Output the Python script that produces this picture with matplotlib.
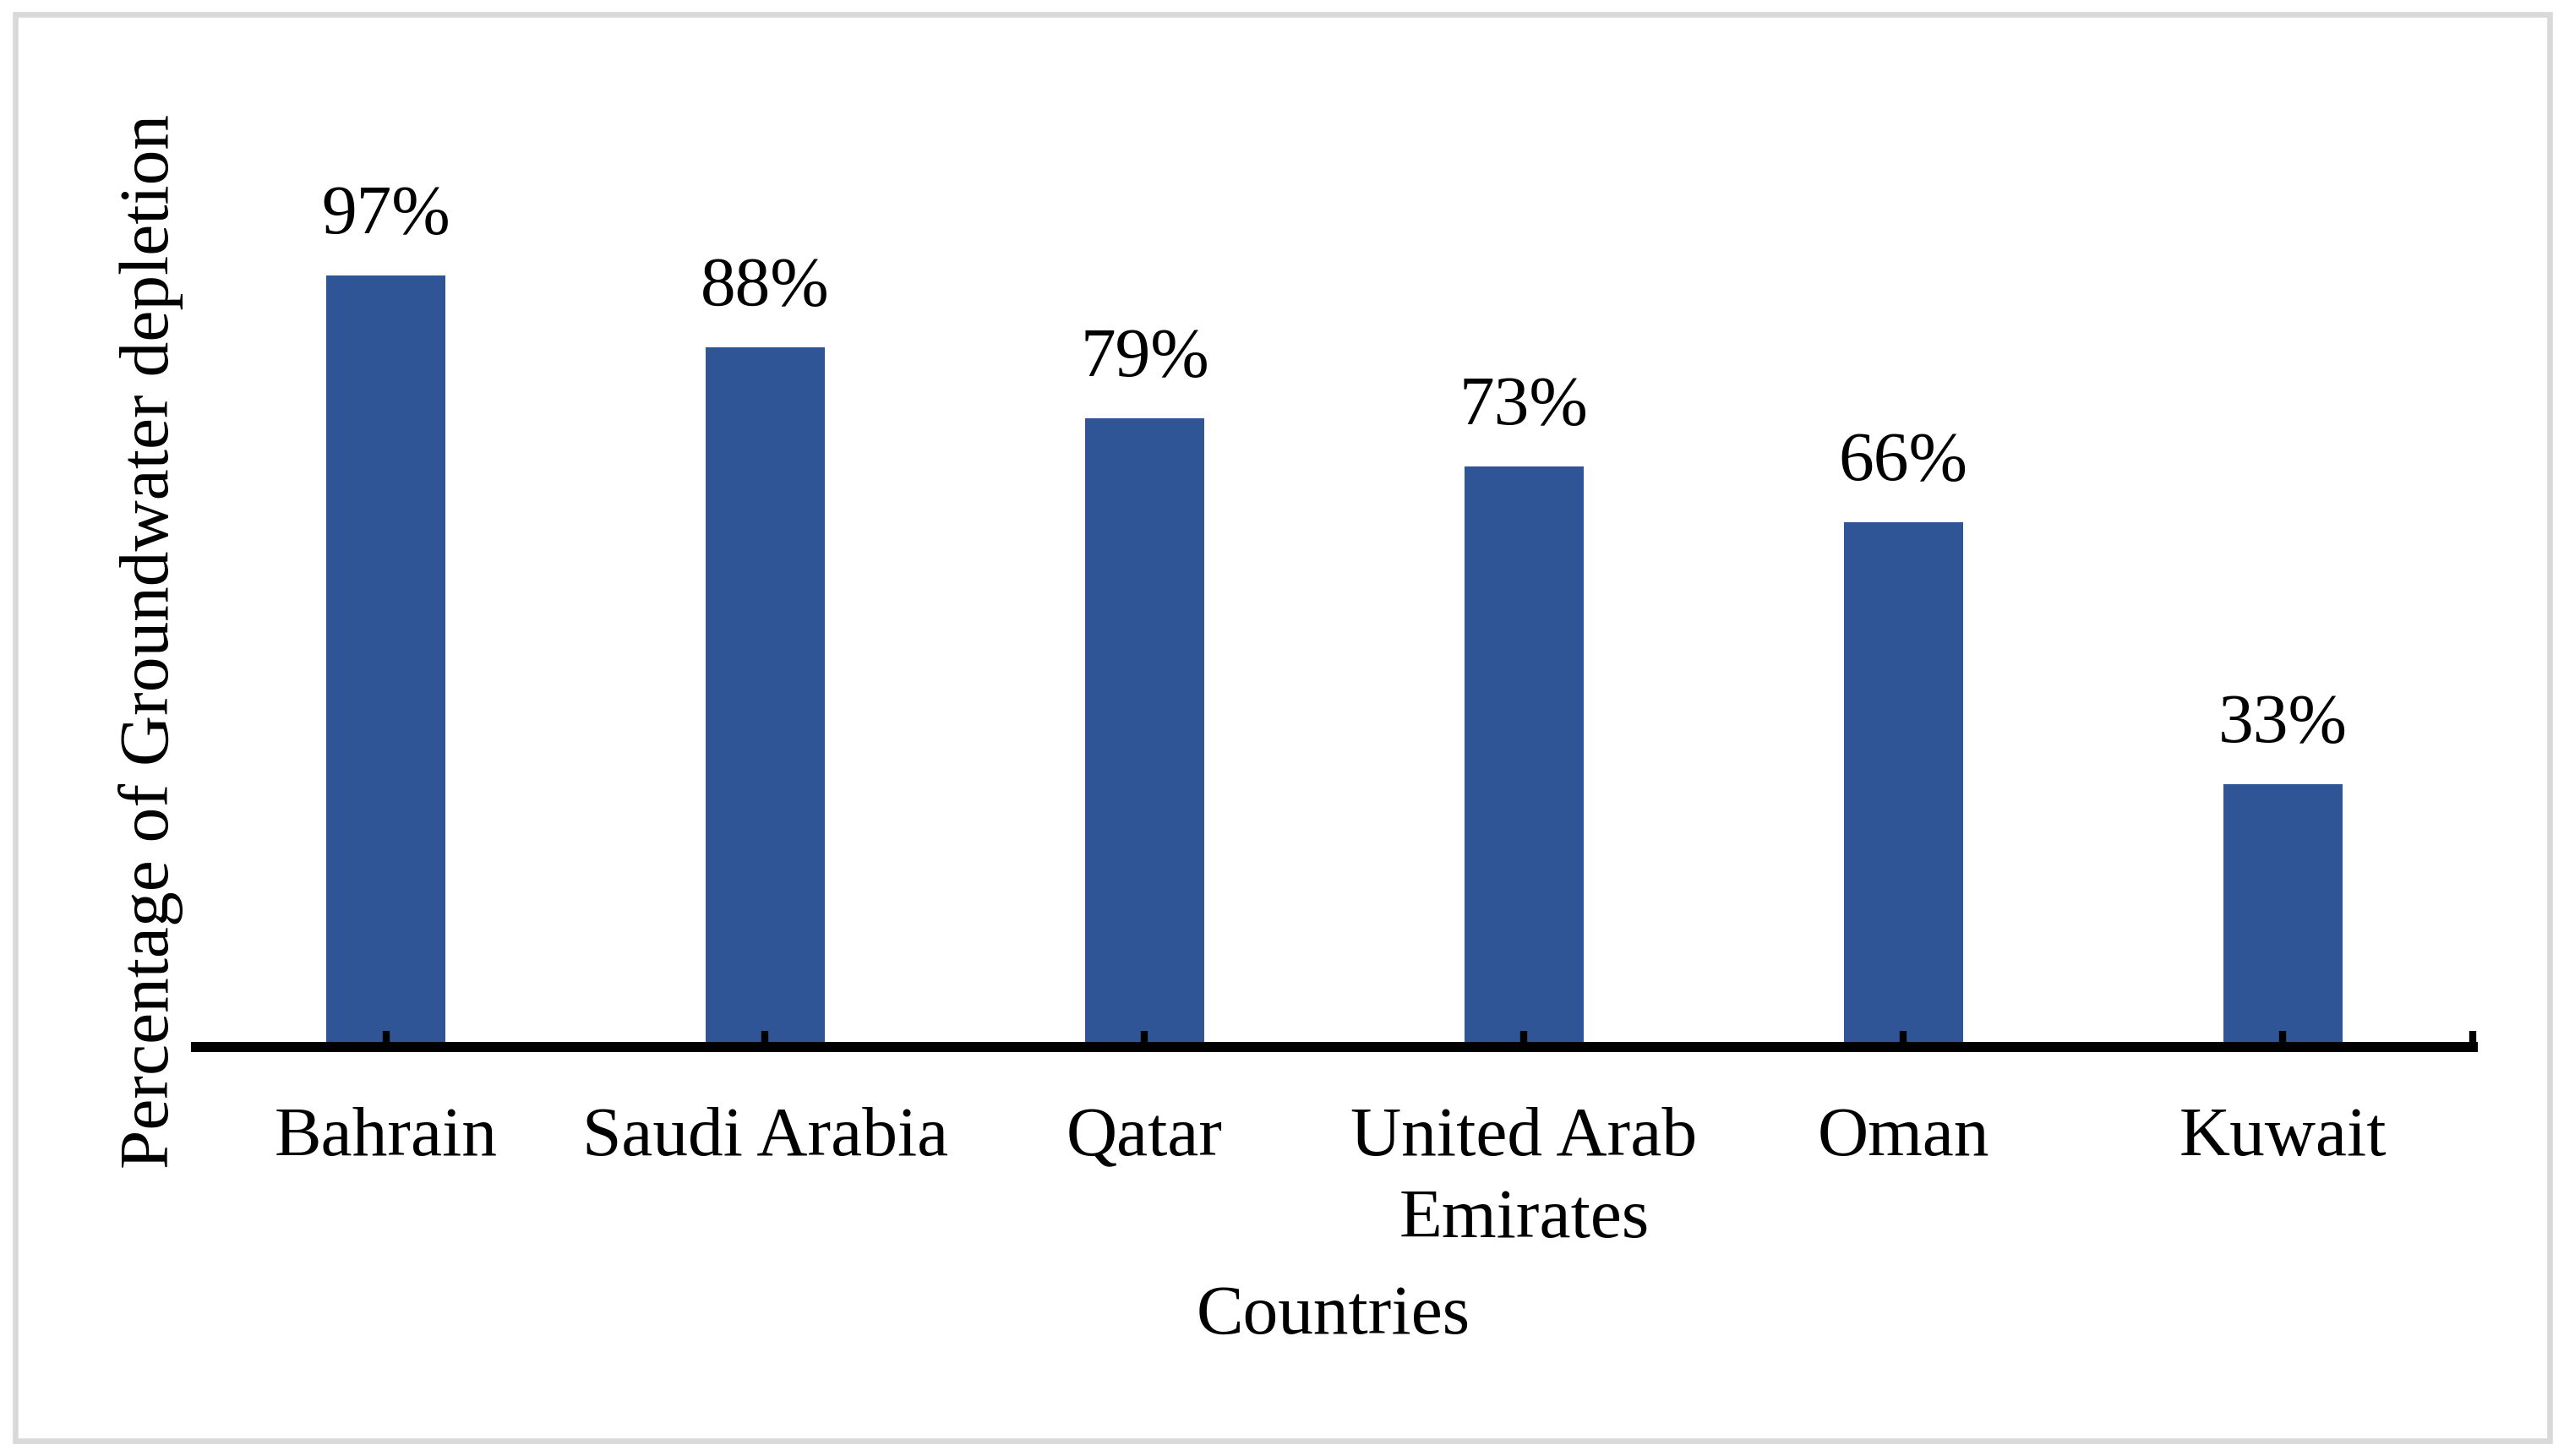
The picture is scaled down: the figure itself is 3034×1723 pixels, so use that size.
import matplotlib
matplotlib.use('Agg')
import matplotlib.pyplot as plt
from matplotlib.patches import Rectangle

# data
countries = ['Bahrain', 'Saudi Arabia', 'Qatar', 'United Arab\nEmirates', 'Oman', 'Kuwait']
depletion = [97, 88, 79, 73, 66, 33]
value_labels = ['97%', '88%', '79%', '73%', '66%', '33%']

plt.rcParams['font.family'] = ['Liberation Serif', 'DejaVu Serif']
fs = 30
bar_color = '#2F5597'

fig = plt.figure(figsize=(15.17, 8.62), dpi=200)
ax = fig.add_axes([0.0765, 0.2807, 0.8878, 0.546])

x = range(len(countries))
ax.bar(x, depletion, width=0.315, color=bar_color, zorder=2)

for i, v in enumerate(depletion):
    ax.text(i, v + 3.5, value_labels[i], ha='center', va='bottom', fontsize=fs)

ax.set_xlim(-0.5, 5.5)
ax.set_ylim(0, 100)
ax.set_axisbelow(False)

for s in ['top', 'right', 'left']:
    ax.spines[s].set_visible(False)
ax.spines['bottom'].set_linewidth(4.3)
ax.spines['bottom'].set_zorder(3)
ax.set_yticks([])

ax.set_xticks(list(x))
ax.set_xticklabels(countries, fontsize=fs, linespacing=1.38)
ax.tick_params(axis='x', direction='in', length=7, width=3, pad=25)
ax.set_xticks([5.5], minor=True)
ax.tick_params(axis='x', which='minor', direction='in', length=7, width=3)

fig.text(0.0587, 0.56, 'Percentage of Groundwater depletion', rotation=90,
         ha='center', va='center', fontsize=fs)
fig.text(0.52, 0.0965, 'Countries', ha='center', va='center', fontsize=fs)

# light grey frame around the whole chart
fig.patches.append(Rectangle((18 / 3034, 18 / 1724), 2999 / 3034, 1688 / 1724,
                             transform=fig.transFigure, fill=False,
                             edgecolor='#d9d9d9', linewidth=2.4))

fig.savefig('out.png', dpi=200, facecolor='white')
